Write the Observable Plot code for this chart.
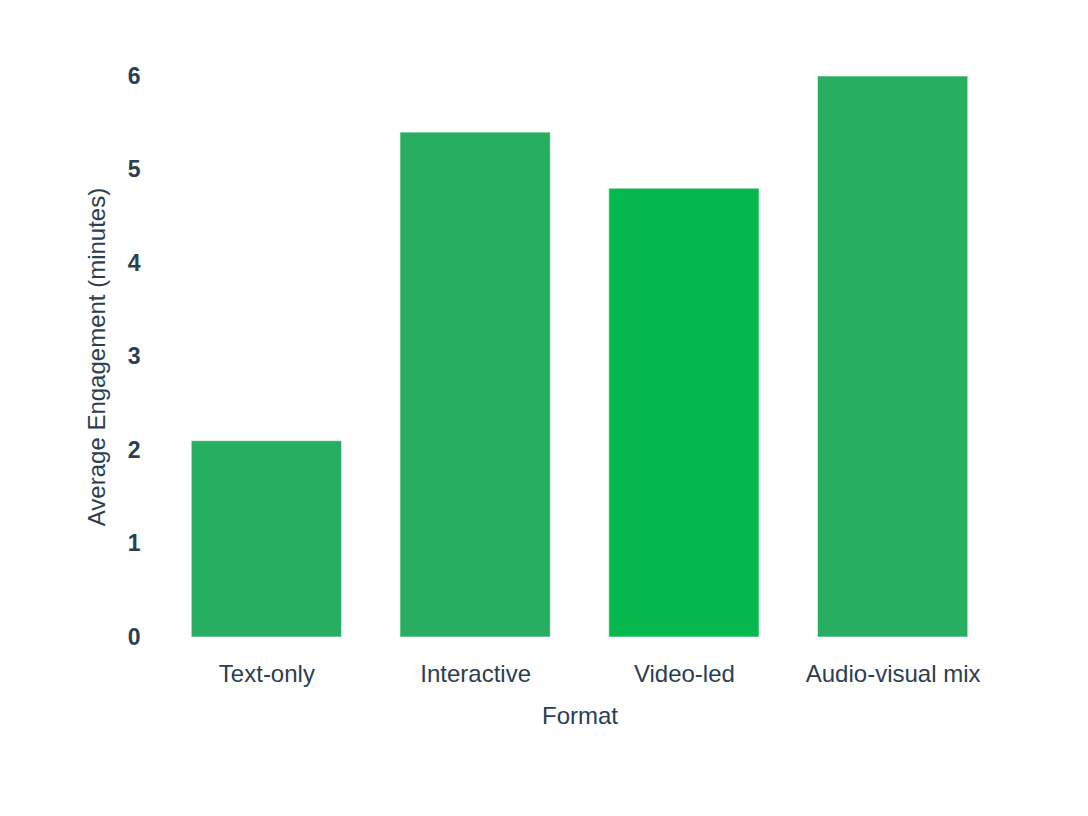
<!DOCTYPE html>
<html>
<head>
<meta charset="utf-8">
<script src="https://cdn.jsdelivr.net/npm/d3@7"></script>
<script src="https://cdn.jsdelivr.net/npm/@observablehq/plot@0.6"></script>
<style>
  html, body { margin: 0; padding: 0; background: #ffffff; }
  #chart { width: 1088px; height: 816px; }
</style>
</head>
<body>
<div id="chart"></div>
<script>
const formats = ["Text-only", "Interactive", "Video-led", "Audio-visual mix"];
const engagement = [2.1, 5.4, 4.8, 6.0];
const yTicks = [0, 1, 2, 3, 4, 5, 6];

const data = formats.map((f, i) => ({format: f, value: engagement[i]}));
const textColor = "#2c3e50";

const chart = Plot.plot({
  width: 1088,
  height: 816,
  marginLeft: 162,
  marginRight: 91,
  marginTop: 76,
  marginBottom: 179,
  style: {fontFamily: "'Liberation Sans', Arial, Helvetica, sans-serif", color: textColor, background: "#ffffff"},
  x: {domain: formats, paddingInner: 0.28, paddingOuter: 0.14, round: false},
  y: {domain: [0, 6]},
  marks: [
    Plot.barY(data, {
      x: "format",
      y: "value",
      fill: d => d.format === "Video-led" ? "#05b94f" : "#27ae60",
      stroke: "#ffffff",
      strokeOpacity: 0.6,
      strokeWidth: 1
    }),
    Plot.axisX({
      tickSize: 0,
      tickPadding: 27,
      fontSize: 24,
      fill: textColor,
      label: "Format",
      labelAnchor: "center",
      labelOffset: 86,
      labelArrow: false
    }),
    Plot.axisY({
      ticks: yTicks,
      tickFormat: d => String(d),
      tickSize: 0,
      tickPadding: 22,
      fontSize: 23,
      fontWeight: "bold",
      fill: textColor,
      label: "Average Engagement (minutes)",
      labelAnchor: "center",
      labelOffset: 75,
      labelArrow: false
    })
  ]
});

chart.querySelectorAll("[aria-label='x-axis label'], [aria-label='y-axis label']").forEach(g => {
  g.setAttribute("font-size", "24");
  g.setAttribute("font-weight", "normal");
});
document.getElementById("chart").appendChild(chart);
</script>
</body>
</html>
